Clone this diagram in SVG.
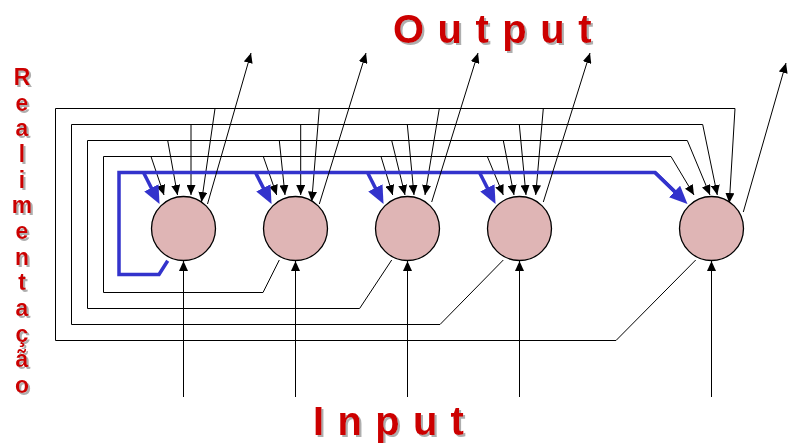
<svg xmlns="http://www.w3.org/2000/svg" width="788" height="443" viewBox="0 0 788 443">
<defs>
<style>
.ln{fill:none;stroke:#000;stroke-width:1}
.ar{fill:none;stroke:#000;stroke-width:1;marker-end:url(#ah)}
.bl{fill:none;stroke:#3333cc;stroke-width:3.5;stroke-linejoin:miter}
.ba{fill:none;stroke:#3333cc;stroke-width:3.5;marker-end:url(#bh)}
.neu{fill:#dfb5b5;stroke:#000;stroke-width:1.3}
.lbl{font-family:"Liberation Sans",Arial,sans-serif;font-weight:bold;fill:#cc0000;filter:url(#sh)}
</style>
<marker id="ah" markerUnits="userSpaceOnUse" markerWidth="10" markerHeight="9" refX="10" refY="4.5" orient="auto"><path d="M0,0 L10,4.5 L0,9 z" fill="#000"/></marker>
<marker id="bh" markerUnits="userSpaceOnUse" markerWidth="18" markerHeight="16" refX="8" refY="8" orient="auto"><path d="M0,0 L18,8 L0,16 z" fill="#3333cc"/></marker>
<filter id="sh" x="-10%" y="-10%" width="130%" height="130%"><feDropShadow dx="2" dy="2" stdDeviation="0.4" flood-color="#9a9a9a" flood-opacity="0.8"/></filter>
</defs>
<rect width="788" height="443" fill="#fff"/>

<g id="connectors">
  <!-- feedback loops -->
  <path class="ln" d="M695.7,260 L616,340.5 L55.5,340.5 L55.5,108.5 L735,108.5"/>
  <path class="ar" d="M735,108.5 L729.3,203"/>
  <path class="ln" d="M503.3,260 L440,324.5 L71.5,324.5 L71.5,124.5 L702.7,124.5"/>
  <path class="ar" d="M702.7,124.5 L717.3,195"/>
  <path class="ln" d="M391.7,260 L359.6,308.5 L87.5,308.5 L87.5,140.5 L687.3,140.5"/>
  <path class="ar" d="M687.3,140.5 L710,195"/>
  <path class="ln" d="M279.3,260 L263,292.5 L103.5,292.5 L103.5,156.5 L671,156.5"/>
  <path class="ar" d="M671,156.5 L694,195"/>

  <!-- branches neuron 1 -->
  <path class="ar" d="M151,156.5 L164,195"/>
  <path class="ar" d="M167.7,140.5 L177.5,195"/>
  <path class="ar" d="M191,124.5 L191,195"/>
  <path class="ar" d="M215,108.5 L201.5,202"/>
  <!-- branches neuron 2 -->
  <path class="ar" d="M263.3,156.5 L276.7,195"/>
  <path class="ar" d="M279.3,140.5 L285,195"/>
  <path class="ar" d="M300.7,124.5 L300.7,195"/>
  <path class="ar" d="M319.3,108.5 L311.7,201.5"/>
  <!-- branches neuron 3 -->
  <path class="ar" d="M381,156.5 L392.7,195"/>
  <path class="ar" d="M391.7,140.5 L405,195"/>
  <path class="ar" d="M407.3,124.5 L414,195"/>
  <path class="ar" d="M439.3,108.5 L425,195"/>
  <!-- branches neuron 4 -->
  <path class="ar" d="M487.3,156.5 L503.3,195"/>
  <path class="ar" d="M503.3,140.5 L514,195"/>
  <path class="ar" d="M519.3,124.5 L526,195"/>
  <path class="ar" d="M543.3,108.5 L535.7,195"/>

  <!-- blue feedback of neuron 1 -->
  <path class="bl" d="M167.7,260.7 L159,274.5 L119,274.5 L119,172.5 L655,172.5 L680.3,197"/>
  <path class="ba" d="M655,172.5 L680.3,197"/>
  <path class="ba" d="M143.5,172.5 L155,195.1"/>
  <path class="ba" d="M255.5,172.5 L267,195.1"/>
  <path class="ba" d="M367.5,172.5 L379,195.1"/>
  <path class="ba" d="M479.5,172.5 L491,195.1"/>

  <!-- outputs -->
  <path class="ar" d="M207.5,204 L251,53"/>
  <path class="ar" d="M319.3,204 L366,53"/>
  <path class="ar" d="M431.7,202 L478,53"/>
  <path class="ar" d="M543.3,202 L590,53"/>
  <path class="ar" d="M743.3,212 L786,63"/>

  <!-- inputs -->
  <path class="ar" d="M183.5,397 L183.5,261"/>
  <path class="ar" d="M295.5,397 L295.5,261"/>
  <path class="ar" d="M407.5,397 L407.5,261"/>
  <path class="ar" d="M519.5,397 L519.5,261"/>
  <path class="ar" d="M711.5,397 L711.5,261"/>
</g>

<g id="n1"><circle class="neu" cx="183.5" cy="228.5" r="32"/></g>
<g id="n2"><circle class="neu" cx="295.5" cy="228.5" r="32"/></g>
<g id="n3"><circle class="neu" cx="407.5" cy="228.5" r="32"/></g>
<g id="n4"><circle class="neu" cx="519.5" cy="228.5" r="32"/></g>
<g id="n5"><circle class="neu" cx="711.5" cy="228.5" r="32"/></g>

<g id="labels">
  <text class="lbl" x="393" y="43" font-size="40" letter-spacing="13.5">Output</text>
  <text class="lbl" x="313" y="435" font-size="40" letter-spacing="13.3">Input</text>
  <g class="lbl" font-size="23" text-anchor="middle">
    <text x="22" y="85">R</text>
    <text x="22" y="110.7">e</text>
    <text x="22" y="136.3">a</text>
    <text x="22" y="162">l</text>
    <text x="22" y="187.7">i</text>
    <text x="22" y="213.3">m</text>
    <text x="22" y="239">e</text>
    <text x="22" y="264.7">n</text>
    <text x="22" y="290.3">t</text>
    <text x="22" y="316">a</text>
    <text x="22" y="341.7">ç</text>
    <text x="22" y="367.3">ã</text>
    <text x="22" y="393">o</text>
  </g>
</g>
</svg>
